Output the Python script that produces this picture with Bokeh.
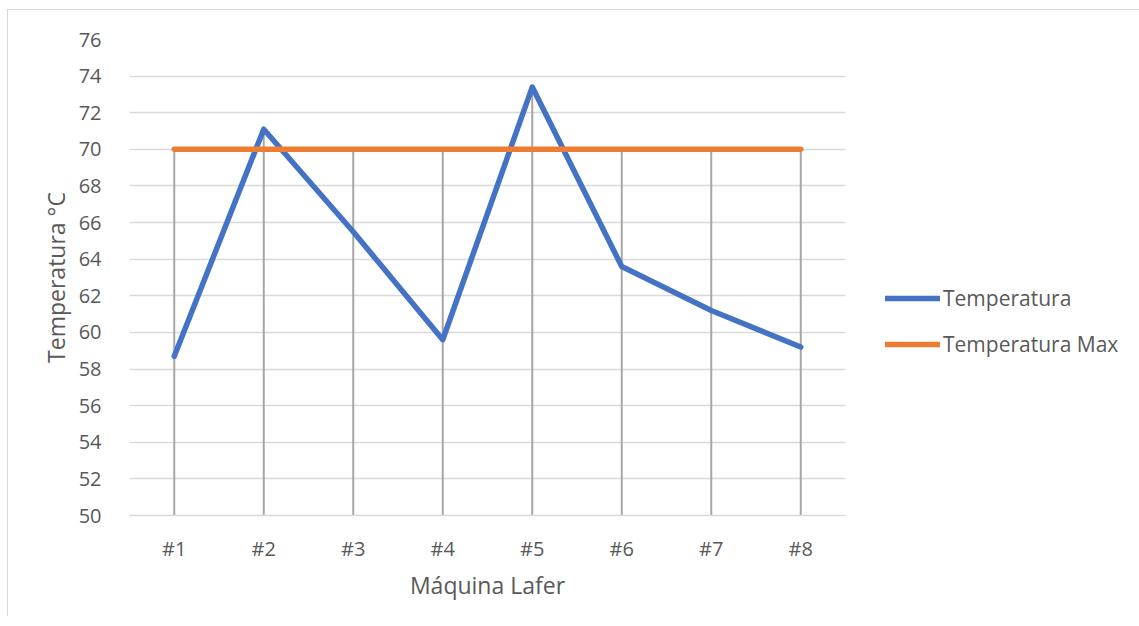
from bokeh.plotting import figure
from bokeh.models import Legend, LegendItem, FixedTicker, ColumnDataSource
from bokeh.embed import file_html
from bokeh.resources import INLINE

maquinas = ["#1", "#2", "#3", "#4", "#5", "#6", "#7", "#8"]
temperatura = [58.7, 71.1, 65.5, 59.6, 73.4, 63.6, 61.2, 59.2]
temperatura_max = [70, 70, 70, 70, 70, 70, 70, 70]
y_ticks = list(range(50, 78, 2))

FONT = "Open Sans"
TXT = "#595959"

p = figure(x_range=maquinas, y_range=(50, 76), frame_width=716, frame_height=476,
           output_backend="svg", toolbar_location=None,
           min_border_left=121, min_border_top=29, min_border_bottom=101,
           min_border_right=0)
p.styles = {"margin-left": "7px", "margin-top": "9px",
            "border-left": "1px solid #d9d9d9", "border-top": "1px solid #d9d9d9"}
p.outline_line_color = None
p.background_fill_color = "white"

# grid
p.xgrid.grid_line_color = None
p.ygrid.grid_line_color = "#d9d9d9"
p.ygrid.grid_line_width = 1.5
p.yaxis.ticker = FixedTicker(ticks=y_ticks)

# drop lines
tops = [max(a, b) for a, b in zip(temperatura, temperatura_max)]
src = ColumnDataSource(dict(x=maquinas, y0=[50] * len(maquinas), y1=tops))
p.segment(x0="x", x1="x", y0="y0", y1="y1", source=src, line_color="#a6a6a6", line_width=2)

r1 = p.line(maquinas, temperatura, line_color="#4472C4", line_width=5.5, line_cap="round", line_join="round")
r2 = p.line(maquinas, temperatura_max, line_color="#ED7D31", line_width=5.5, line_cap="round")

# axes
for ax in (p.xaxis[0], p.yaxis[0]):
    ax.major_tick_line_color = None
    ax.minor_tick_line_color = None
    ax.major_label_text_font = FONT
    ax.major_label_text_font_size = "20px"
    ax.major_label_text_color = TXT
    ax.axis_label_text_font = FONT
    ax.axis_label_text_font_size = "23px"
    ax.axis_label_text_color = TXT
    ax.axis_label_text_font_style = "normal"
p.yaxis.axis_line_color = None
p.xaxis.axis_line_color = "#d9d9d9"
p.xaxis.axis_line_width = 1.5
p.xaxis.major_label_standoff = 13
p.yaxis.major_label_standoff = 22
p.xaxis.axis_label = "Máquina Lafer"
p.yaxis.axis_label = "Temperatura °C"
p.xaxis.axis_label_standoff = 4
p.yaxis.axis_label_standoff = 4

legend = Legend(items=[LegendItem(label="Temperatura", renderers=[r1]),
                       LegendItem(label="Temperatura Max", renderers=[r2])],
                location=(40, 157), border_line_color=None, background_fill_alpha=0,
                label_text_font=FONT, label_text_font_size="21px", label_text_color=TXT,
                glyph_width=55, glyph_height=20, label_standoff=3, spacing=18,
                padding=0, margin=0)
p.add_layout(legend, "right")

open("out.html", "w").write(file_html(p, INLINE))
